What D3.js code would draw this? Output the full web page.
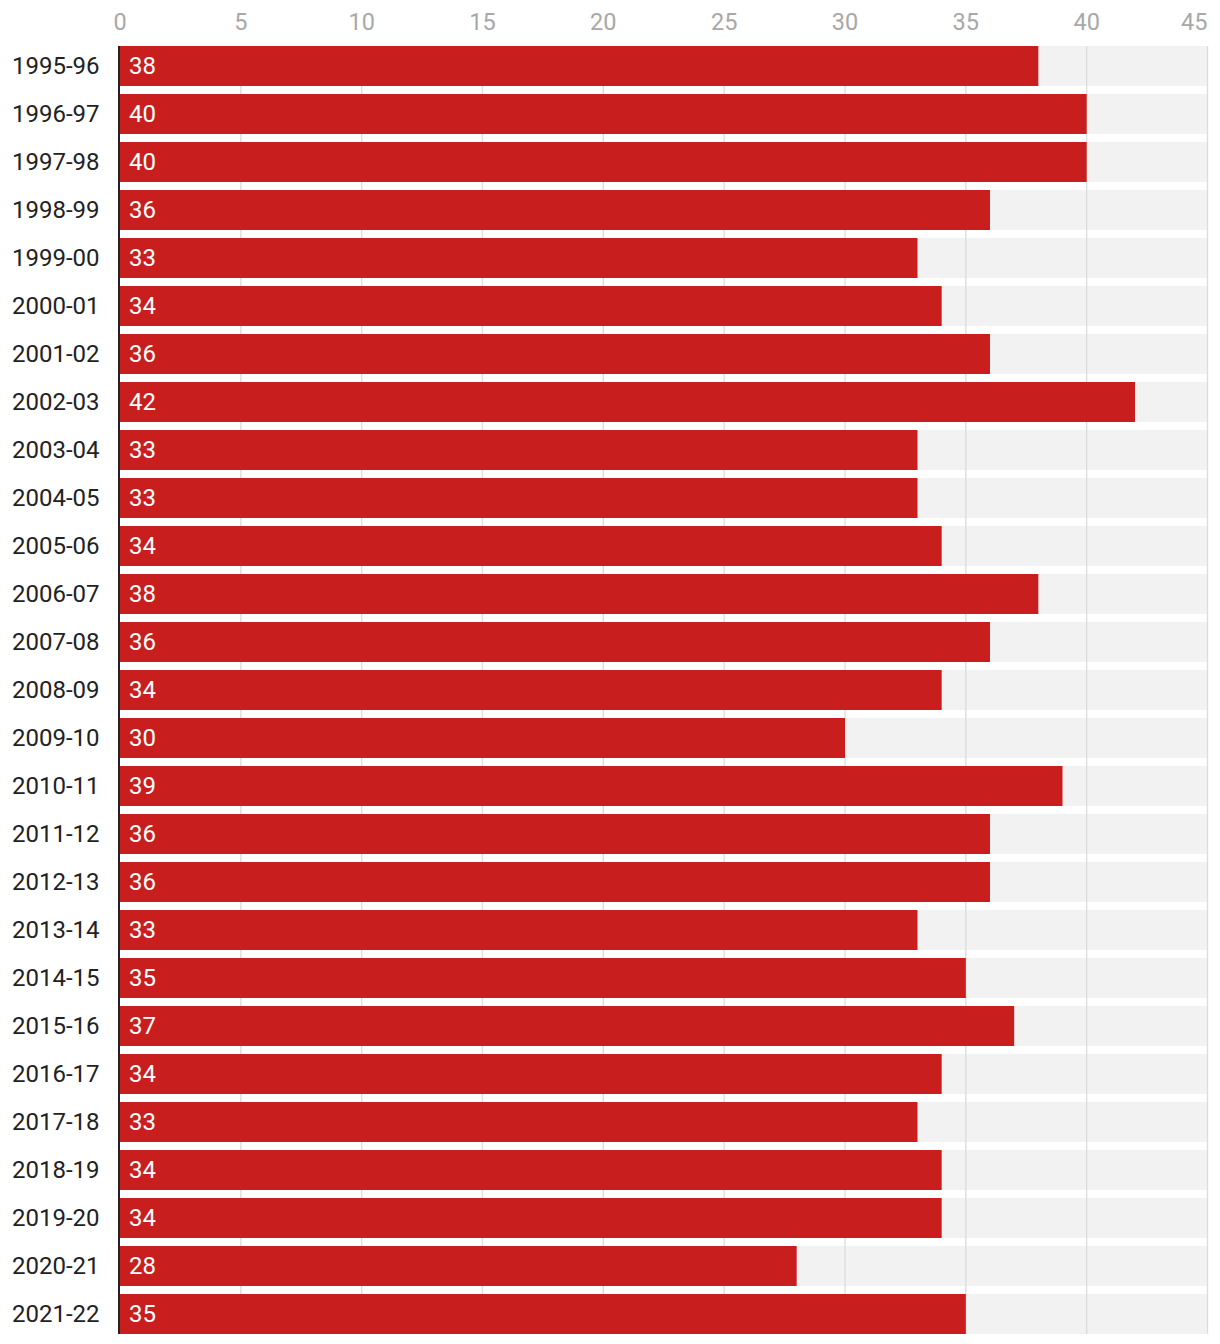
<!DOCTYPE html>
<html>
<head>
<meta charset="utf-8">
<script src="https://cdn.jsdelivr.net/npm/d3@7"></script>
<style>
  html, body { margin: 0; padding: 0; background: #fff; }
  svg { display: block; font-family: Roboto, "Noto Sans", sans-serif; }
</style>
</head>
<body>
<svg id="chart" width="1220" height="1344"></svg>
<script>
const seasons = ["1995-96","1996-97","1997-98","1998-99","1999-00","2000-01","2001-02","2002-03","2003-04","2004-05","2005-06","2006-07","2007-08","2008-09","2009-10","2010-11","2011-12","2012-13","2013-14","2014-15","2015-16","2016-17","2017-18","2018-19","2019-20","2020-21","2021-22"];
const values = [38,40,40,36,33,34,36,42,33,33,34,38,36,34,30,39,36,36,33,35,37,34,33,34,34,28,35];
const tickValues = [0,5,10,15,20,25,30,35,40,45];

(function () {
const svg = d3.select("#chart");
const mLeft = 120, mRight = 1207.5, mTop = 46, mBottom = 1334;

const x = d3.scaleLinear().domain([0, 45]).range([mLeft, mRight]);
const y = d3.scaleBand().domain(seasons).range([mTop, mBottom]).paddingInner(1/6).paddingOuter(0);

// background bars
svg.append("g").selectAll("rect").data(seasons).join("rect")
  .attr("x", x(0)).attr("y", d => y(d))
  .attr("width", x(45) - x(0)).attr("height", y.bandwidth())
  .attr("fill", "#f2f2f2");

// grid lines
svg.append("g").selectAll("line").data(tickValues.filter(t => t > 0)).join("line")
  .attr("x1", d => x(d)).attr("x2", d => x(d))
  .attr("y1", mTop).attr("y2", mBottom)
  .attr("stroke", "#dcdcdc").attr("stroke-width", 1.3);

// tick labels
svg.append("g").selectAll("text").data(tickValues).join("text")
  .attr("x", d => x(d))
  .attr("y", 30)
  .attr("text-anchor", (d, i) => i === tickValues.length - 1 ? "end" : "middle")
  .attr("font-size", 23.5).attr("fill", "#a8a8a8")
  .text(d => d);

// bars
svg.append("g").selectAll("rect").data(seasons).join("rect")
  .attr("x", x(0)).attr("y", d => y(d))
  .attr("width", (d, i) => x(values[i]) - x(0)).attr("height", y.bandwidth())
  .attr("fill", "#c91e1e");

// value labels
svg.append("g").selectAll("text").data(seasons).join("text")
  .attr("x", x(0) + 9).attr("y", d => y(d) + y.bandwidth() / 2)
  .attr("dy", "0.33em")
  .attr("font-size", 24).attr("fill", "#fff")
  .text((d, i) => values[i]);

// category labels
svg.append("g").selectAll("text").data(seasons).join("text")
  .attr("x", 99.5).attr("y", d => y(d) + y.bandwidth() / 2)
  .attr("dy", "0.33em")
  .attr("text-anchor", "end")
  .attr("font-size", 24).attr("fill", "#222")
  .text(d => d);

// axis line
svg.append("line")
  .attr("x1", x(0) - 1).attr("x2", x(0) - 1)
  .attr("y1", mTop).attr("y2", mBottom)
  .attr("stroke", "#222").attr("stroke-width", 2);
})();
</script>
</body>
</html>
